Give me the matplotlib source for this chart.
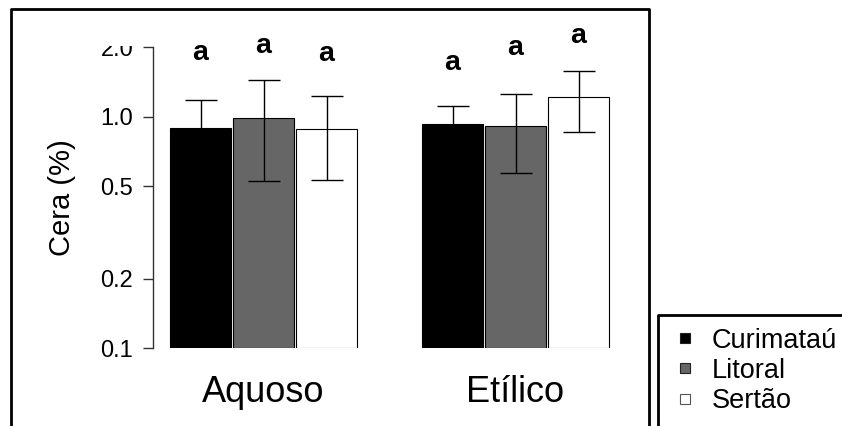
import numpy as np
import matplotlib
matplotlib.use('Agg')
import matplotlib.pyplot as plt
from matplotlib.lines import Line2D
from matplotlib.transforms import Bbox, TransformedBbox

plt.rcParams['font.family'] = ['Liberation Sans', 'DejaVu Sans']

extracts = ['Aquoso', 'Etílico']
regions = ['Curimataú', 'Litoral', 'Sertão']
colors = ['#000000', '#666666', '#ffffff']

# cera (%) means and sd, per region, for each extract
cera_mean = {
    'Curimataú': [0.896, 0.930],
    'Litoral': [0.987, 0.912],
    'Sertão': [0.882, 1.217],
}
cera_sd = {
    'Curimataú': [0.284, 0.182],
    'Litoral': [0.460, 0.340],
    'Sertão': [0.350, 0.360],
}
letters = {
    'Curimataú': ['a', 'a'],
    'Litoral': ['a', 'a'],
    'Sertão': ['a', 'a'],
}
letter_y = {
    'Curimataú': [1.757, 1.591],
    'Litoral': [1.889, 1.847],
    'Sertão': [1.740, 2.087],
}

yticks = [0.1, 0.2, 0.5, 1.0, 2.0]
ytick_labels = ['0.1', '0.2', '0.5', '1.0', '2.0']

W, H = 842, 426
fig = plt.figure(figsize=(W / 100, H / 100), dpi=100)
ax = fig.add_axes([153.3 / W, (H - 348.3) / H, 472.5 / W, (348.3 - 47) / H])

base = 0.1
group_start = [1.5, 5.5]
for i, reg in enumerate(regions):
    xs = np.array(group_start) + i
    means = np.array(cera_mean[reg])
    ax.bar(xs, means - base, bottom=base, width=0.96, color=colors[i],
           edgecolor='black', linewidth=0.8, zorder=2)
    ax.errorbar(xs, means, yerr=cera_sd[reg], fmt='none', ecolor='black',
                elinewidth=1.0, capsize=11.5, capthick=1.0, zorder=3)
    for x, lab, ly in zip(xs, letters[reg], letter_y[reg]):
        ax.text(x, ly, lab, ha='center', va='baseline', fontsize=20.5,
                fontweight='bold', clip_on=False)

ax.set_yscale('log')
ax.set_ylim(0.1, 2.0)
ax.set_xlim(0.75, 8.25)
ax.set_yticks(yticks)
ax.set_yticklabels(ytick_labels)
ax.yaxis.set_minor_locator(matplotlib.ticker.NullLocator())
ax.set_xticks([2.5, 6.5])
ax.set_xticklabels(extracts)
ax.tick_params(axis='x', length=0, pad=19, labelsize=26)
ax.tick_params(axis='y', length=7.5, width=1, color='#333333', pad=7, labelsize=17)

for s in ['top', 'right', 'bottom']:
    ax.spines[s].set_visible(False)
ax.spines['left'].set_bounds(0.1, 2.0)
ax.spines['left'].set_color('#333333')
ax.spines['left'].set_linewidth(1)
ax.patch.set_alpha(0)

fig.text(61.7 / W, 1 - 198 / H, 'Cera (%)', rotation=90, ha='center',
         va='center', fontsize=21)

# outer box and legend box (both run off the image)
fig.add_artist(Line2D([11.3 / W, 11.3 / W, 649 / W, 649 / W],
                      [-0.05, 1 - 9 / H, 1 - 9 / H, -0.05],
                      color='black', linewidth=2, transform=fig.transFigure))
fig.add_artist(Line2D([657.7 / W, 657.7 / W, 1.05],
                      [-0.05, 1 - 314.7 / H, 1 - 314.7 / H],
                      color='black', linewidth=2, transform=fig.transFigure))

handles = [Line2D([], [], linestyle='none', marker='s', markersize=7.5,
                  markerfacecolor=c, markeredgecolor='#222222' if c != '#ffffff' else '#555555',
                  markeredgewidth=0.8) for c in colors]
fig.legend(handles, regions, loc='upper left',
           bbox_to_anchor=(671.5 / W, 1 - 327.5 / H), frameon=False,
           fontsize=19.5, handlelength=1.0, handletextpad=0.49,
           labelspacing=0.16, borderpad=0, borderaxespad=0)

# the top of the 2.0 label is cut off in the original
fig.canvas.draw()
for lbl in ax.get_yticklabels():
    if lbl.get_text() == '2.0':
        lbl.set_clip_on(True)
        lbl.set_clip_box(TransformedBbox(Bbox([[0, 0], [1, 1 - 45.5 / H]]),
                                         fig.transFigure))

plt.savefig('out.png', dpi=100)
